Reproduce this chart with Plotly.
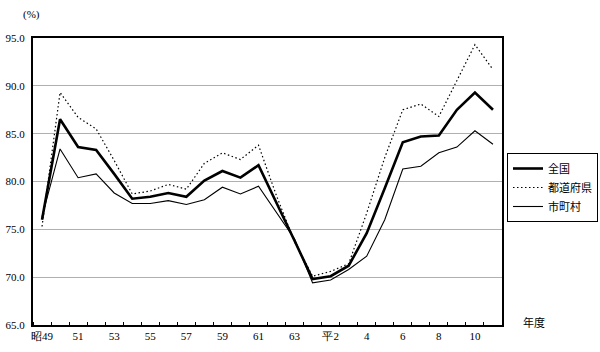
import plotly.graph_objects as go

year_labels = ["昭49", "51", "53", "55", "57", "59", "61", "63", "平2", "4", "6", "8", "10"]
n_years = 26  # 昭49 (1974) .. 平11 (1999)

zenkoku = [76.0, 86.5, 83.6, 83.3, 80.8, 78.2, 78.4, 78.8, 78.4, 80.1, 81.1, 80.4, 81.7,
           77.8, 73.8, 69.8, 70.1, 71.2, 74.6, 79.3, 84.1, 84.7, 84.8, 87.5, 89.3, 87.5]
todofuken = [75.3, 89.3, 86.7, 85.5, 82.2, 78.7, 79.0, 79.7, 79.2, 81.9, 83.0, 82.3, 83.8,
             78.5, 73.7, 70.1, 70.6, 71.4, 76.7, 82.5, 87.5, 88.1, 86.8, 90.6, 94.3, 91.7]
shichoson = [76.3, 83.4, 80.4, 80.8, 78.8, 77.7, 77.7, 78.0, 77.6, 78.1, 79.4, 78.7, 79.5,
             76.8, 74.0, 69.4, 69.7, 70.8, 72.2, 76.0, 81.3, 81.6, 83.0, 83.6, 85.3, 83.9]
y_ticks = [65, 70, 75, 80, 85, 90, 95]

x = list(range(n_years))
fig = go.Figure()
fig.add_trace(go.Scatter(x=x, y=zenkoku, name="全国", mode="lines",
                         line=dict(color="black", width=2.6)))
fig.add_trace(go.Scatter(x=x, y=todofuken, name="都道府県", mode="lines",
                         line=dict(color="black", width=1.2, dash="1.5px,2.5px")))
fig.add_trace(go.Scatter(x=x, y=shichoson, name="市町村", mode="lines",
                         line=dict(color="black", width=1.1)))

serif = "Liberation Serif"
cjk = "Noto Sans CJK JP"
L, R, T, B = 33, 98, 38, 27
W, H = 600, 352
pw, ph = W - L - R, H - T - B

def px_x(v):
    return (v - L) / pw

def px_y(v):
    return (H - B - v) / ph

fig.update_layout(
    width=W, height=H,
    margin=dict(l=L, r=R, t=T, b=B, autoexpand=False),
    paper_bgcolor="white", plot_bgcolor="white",
    showlegend=True,
    legend=dict(x=px_x(507), y=px_y(153), xanchor="left", yanchor="top",
                bordercolor="black", borderwidth=1,
                font=dict(family=cjk, size=11, color="black"),
                tracegroupgap=0, itemwidth=30),
    xaxis=dict(range=[-0.5, n_years - 0.5],
               tickmode="array", tickvals=list(range(0, n_years - 1, 2)), ticktext=year_labels,
               ticks="", showgrid=False, zeroline=False,
               showline=True, linecolor="black", linewidth=1.5, mirror=True,
               tickfont=dict(family=serif, size=11, color="black"),
               minor=dict(ticks="inside", tick0=-0.5, dtick=1, ticklen=3,
                          tickcolor="black", showgrid=False)),
    yaxis=dict(range=[65, 95], tickmode="array", tickvals=y_ticks,
               ticktext=[f"{v:.1f}" for v in y_ticks],
               ticks="", showgrid=True, gridcolor="#b0b0b0", gridwidth=1,
               zeroline=False, showline=True, linecolor="black", linewidth=2, mirror=True,
               tickfont=dict(family=serif, size=11, color="black"),
               ticklabelstandoff=4),
    annotations=[
        dict(text="(%)", x=px_x(31), y=px_y(14), xref="paper", yref="paper",
             xanchor="center", yanchor="middle", showarrow=False,
             font=dict(family=serif, size=11, color="black")),
        dict(text="年度", x=px_x(534), y=px_y(322), xref="paper", yref="paper",
             xanchor="center", yanchor="middle", showarrow=False,
             font=dict(family=cjk, size=11, color="black")),
    ],
)

fig.write_html("out.html")
